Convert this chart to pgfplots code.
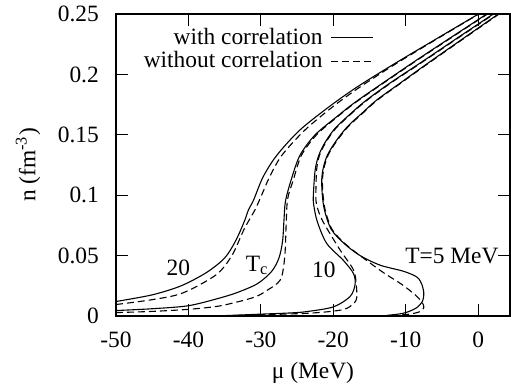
\documentclass[border=0pt]{standalone}
\usepackage{fontspec}
\setmainfont{LiberationSerif}[Extension=.ttf, UprightFont=*-Regular, BoldFont=*-Bold, ItalicFont=*-Italic, BoldItalicFont=*-BoldItalic]
\usepackage{pgfplots}
\pgfplotsset{compat=1.18}
\begin{document}
\fontsize{11.7}{14}\selectfont
\begin{tikzpicture}
\begin{axis}[
  scale only axis, width=197pt, height=151pt,
  xmin=-50, xmax=4.4, ymin=0, ymax=0.25,
  xtick={-50,-40,-30,-20,-10,0},
  ytick={0,0.05,0.1,0.15,0.2,0.25},
  tick align=inside, major tick length=6pt,
  /pgf/number format/assume math mode=true,
  scaled y ticks=false,
  yticklabel style={/pgf/number format/fixed, /pgf/number format/precision=2, xshift=-4.5pt},
  xticklabel style={yshift=-4pt},
  xlabel={μ (MeV)}, ylabel={n (fm\textsuperscript{-3})},
  xlabel style={at={(axis description cs:0.5,-0.189)}, anchor=center},
  ylabel style={at={(axis description cs:-0.223,0.5)}, anchor=center},
  axis line style={line width=0.7pt},
  every tick/.style={line width=0.5pt, black},
  legend image code/.code={\draw[#1] (0pt,0pt) -- (21pt,0pt);},
  legend style={draw=none, fill=none, at={(0.67,0.982)}, anchor=north east, cells={anchor=east}, row sep=-2pt, column sep=2pt},
  legend plot pos=right,
  every axis plot/.append style={line width=0.55pt, black, smooth, tension=0.5},
]
\coordinate (bl) at (rel axis cs:0,0);
\coordinate (tr) at (rel axis cs:1,1);
\addlegendimage{solid, line width=0.55pt, black}
\addlegendentry{with correlation}
\addlegendimage{dash pattern=on 3.5pt off 2pt, line width=0.55pt, black}
\addlegendentry{without correlation}
% T=20 solid
\addplot[forget plot] coordinates {(-50,0.012) (-45,0.0175) (-41,0.025) (-37.5,0.036) (-35,0.048) (-33.5,0.062) (-32.3,0.078) (-31.7,0.088) (-31.0,0.096) (-29.7,0.115) (-27.8,0.133) (-24.6,0.154) (-20.4,0.174) (-16.6,0.19) (-11.5,0.209) (-5.6,0.23) (0.05,0.25)};
% T=20 dashed
\addplot[forget plot, dash pattern=on 3.5pt off 2pt] coordinates {(-50,0.0095) (-45,0.0135) (-40.8,0.019) (-36.2,0.034) (-34,0.05) (-32.3,0.072) (-30.8,0.088) (-29.9,0.1) (-28.8,0.115) (-27.1,0.133) (-23.9,0.154) (-19.9,0.174) (-16.2,0.19) (-11.3,0.209) (-5.5,0.23) (0.1,0.25)};
% Tc solid
\addplot[forget plot] coordinates {(-50,0.0045) (-45,0.006) (-40,0.0085) (-35.6,0.015) (-33,0.02) (-30.4,0.027) (-28.5,0.037) (-27.5,0.048) (-27.0,0.062) (-26.8,0.08) (-26.6,0.095) (-25.8,0.113) (-24.6,0.133) (-22.5,0.15) (-19.3,0.166) (-16.5,0.179) (-9.2,0.209) (-3.9,0.23) (1.2,0.25)};
% Tc dashed
\addplot[forget plot, dash pattern=on 3.5pt off 2pt] coordinates {(-50,0.0028) (-45,0.0038) (-40,0.0055) (-36,0.008) (-33,0.012) (-30.7,0.016) (-29.2,0.021) (-27.3,0.03) (-26.7,0.049) (-26.5,0.077) (-26.3,0.097) (-25.5,0.113) (-24.4,0.133) (-22.3,0.15) (-19.2,0.166) (-16.4,0.179) (-9.1,0.209) (-3.8,0.23) (1.3,0.25)};
% T=10 solid
\addplot[forget plot] coordinates {(-35,0.0003) (-30.1,0.0015) (-26,0.0025) (-23.7,0.0036) (-20,0.0075) (-17.7,0.016) (-17,0.0257) (-17.2,0.035) (-18.6,0.046) (-20.9,0.06) (-22.2,0.078) (-22.7,0.092) (-22.75,0.1) (-22.5,0.121) (-22.0,0.133) (-21.2,0.143) (-19.8,0.155) (-17.4,0.1686) (-15.4,0.1788) (-12,0.1935) (-8.2,0.2086) (-2.9,0.23) (2.1,0.25)};
% T=10 dashed
\addplot[forget plot, dash pattern=on 3.5pt off 2pt] coordinates {(-35,0.0002) (-30,0.001) (-23.7,0.0022) (-20,0.004) (-18.1,0.0064) (-16.85,0.013) (-16.8,0.024) (-17.2,0.038) (-19.1,0.055) (-21.5,0.079) (-22.3,0.092) (-22.4,0.1) (-22.3,0.121) (-21.9,0.133) (-21.1,0.143) (-19.7,0.155) (-17.3,0.1686) (-15.3,0.1788) (-11.9,0.1935) (-8.1,0.2086) (-2.8,0.23) (2.2,0.25)};
% T=5 solid
\addplot[forget plot] coordinates {(-12.6,0.0005) (-10.3,0.0023) (-8.6,0.0064) (-7.7,0.012) (-7.5,0.018) (-7.7,0.025) (-8.4,0.032) (-10.3,0.037) (-13.5,0.042) (-16.3,0.05) (-18.5,0.06) (-20.3,0.072) (-21.3,0.09) (-21.6,0.11) (-21.4,0.122) (-20.8,0.1333) (-19.6,0.145) (-18.0,0.157) (-15.9,0.1686) (-14.0,0.1788) (-10.6,0.1935) (-7.1,0.2086) (-2.0,0.23) (2.8,0.25)};
% T=5 dashed
\addplot[forget plot, dash pattern=on 3.5pt off 2pt] coordinates {(-12,0.0003) (-9.5,0.0015) (-8.0,0.0037) (-7.5,0.007) (-7.7,0.011) (-8.6,0.017) (-10.5,0.026) (-13.1,0.036) (-16.3,0.05) (-18.4,0.06) (-20.2,0.072) (-21.2,0.09) (-21.5,0.11) (-21.3,0.122) (-20.7,0.1333) (-19.5,0.145) (-17.9,0.157) (-15.8,0.1686) (-13.9,0.1788) (-10.5,0.1935) (-7.0,0.2086) (-1.9,0.23) (2.9,0.25)};
\node at (axis cs:-41.4,0.0395) {20};
\node at (axis cs:-30.5,0.042) {T\textsubscript{c}};
\node at (axis cs:-21.3,0.038) {10};
\node at (axis cs:-3.63,0.050) {T=5 MeV};
\end{axis}
\pgfresetboundingbox
\path[use as bounding box] ([shift={(-58pt,-36.5pt)}]bl) rectangle ([shift={(0.5pt,7pt)}]tr);
\end{tikzpicture}
\end{document}
